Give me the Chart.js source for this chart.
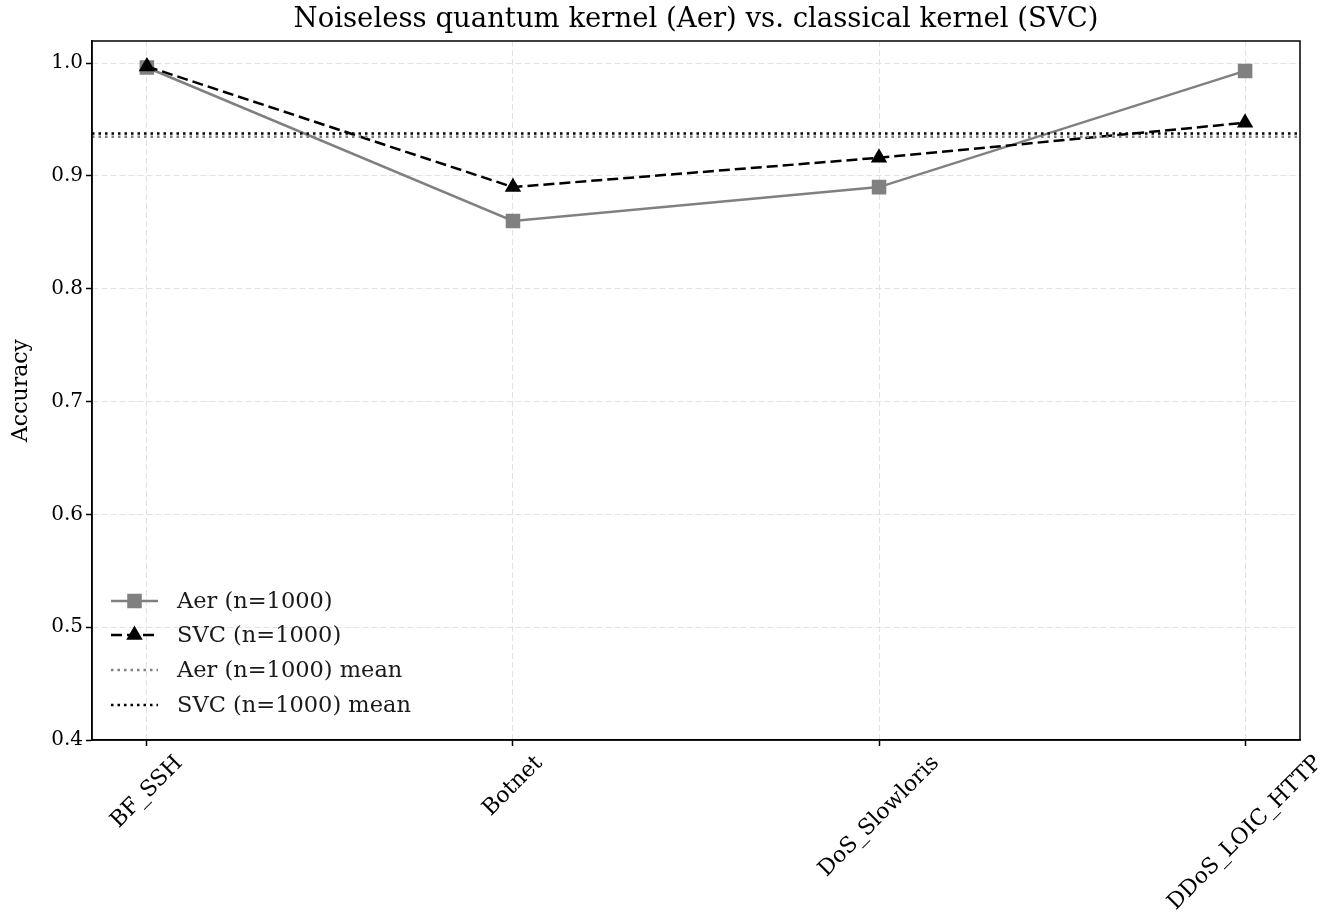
<!DOCTYPE html>
<html lang="en">

<head>
    <meta charset="UTF-8">
    <title>Noiseless quantum kernel vs. classical kernel</title>
    <script src="https://cdn.jsdelivr.net/npm/chart.js"></script>
    <style>
        body {
            margin: 0;
            background-color: white;
        }

        .chart-container {
            position: relative;
            width: 1332px;
            height: 920px;
        }
    </style>
</head>

<body>

    <div class="chart-container">
        <canvas id="accChart"></canvas>
    </div>

    <script>
        // Data
        const categories = ["BF_SSH", "Botnet", "DoS_Slowloris", "DDoS_LOIC_HTTP"];
        const aerAcc = [0.996, 0.860, 0.890, 0.993];
        const svcAcc = [0.997, 0.890, 0.916, 0.947];
        const yTicks = [0.4, 0.5, 0.6, 0.7, 0.8, 0.9, 1.0];
        const seriesNames = ["Aer (n=1000)", "SVC (n=1000)", "Aer (n=1000) mean", "SVC (n=1000) mean"];

        const mean = arr => arr.reduce((a, b) => a + b, 0) / arr.length;
        const aerMean = mean(aerAcc);
        const svcMean = mean(svcAcc);

        const xMin = -0.15;
        const xMax = categories.length - 1 + 0.15;
        const serif = "'DejaVu Serif', serif";

        // title, spines, rotated x labels, y label and legend, matplotlib style
        const decorations = {
            id: 'decorations',
            afterDraw(chart) {
                const ctx = chart.ctx;
                const area = chart.chartArea;
                const xs = chart.scales.x;
                ctx.save();

                // box around plot
                ctx.strokeStyle = '#000';
                ctx.lineWidth = 1.5;
                ctx.strokeRect(area.left, area.top, area.right - area.left, area.bottom - area.top);

                // title
                ctx.fillStyle = '#000';
                ctx.font = "27.5px " + serif;
                ctx.textAlign = 'center';
                ctx.textBaseline = 'middle';
                ctx.fillText("Noiseless quantum kernel (Aer) vs. classical kernel (SVC)", (area.left + area.right) / 2, 20);

                // y label
                ctx.font = "22px " + serif;
                ctx.save();
                ctx.translate(21, (area.top + area.bottom) / 2);
                ctx.rotate(-Math.PI / 2);
                ctx.fillText("Accuracy", 0, 0);
                ctx.restore();

                // x tick labels, rotated 45 deg, centred on the tick
                ctx.font = "22px " + serif;
                categories.forEach((c, i) => {
                    const w = ctx.measureText(c).width;
                    const h = 25;
                    const bb = (w + h) * Math.SQRT1_2;
                    const px = xs.getPixelForValue(i);
                    ctx.save();
                    ctx.translate(px, area.bottom + 11 + bb / 2);
                    ctx.rotate(-Math.PI / 4);
                    ctx.fillText(c, 0, 0);
                    ctx.restore();
                });

                // legend, lower left inside axes
                ctx.font = "22.5px " + serif;
                ctx.textAlign = 'left';
                const lx0 = 111, lx1 = 158, tx = 177;
                const rows = [601, 635, 670, 705];
                chart.data.datasets.forEach((ds, i) => {
                    const y = rows[i];
                    ctx.strokeStyle = ds.borderColor;
                    ctx.lineWidth = ds.borderWidth;
                    ctx.setLineDash(ds.borderDash || []);
                    ctx.beginPath();
                    ctx.moveTo(lx0, y);
                    ctx.lineTo(lx1, y);
                    ctx.stroke();
                    ctx.setLineDash([]);
                    if (ds.pointRadius > 0) {
                        Chart.helpers.drawPoint(ctx, {
                            pointStyle: ds.pointStyle,
                            radius: ds.pointRadius,
                            rotation: 0,
                            borderWidth: 1
                        }, (lx0 + lx1) / 2, y);
                        ctx.fillStyle = ds.pointBackgroundColor;
                        ctx.fill();
                    }
                    ctx.fillStyle = '#1a1a1a';
                    ctx.fillText(ds.label, tx, y + 1);
                });

                ctx.restore();
            }
        };

        const linePts = vals => vals.map((v, i) => ({ x: i, y: v }));
        const flatPts = v => [{ x: xMin, y: v }, { x: xMax, y: v }];

        const gridOpts = {
            color: '#e2e2e2',
            lineWidth: 1,
            tickColor: '#000',
            tickLength: 6,
            tickWidth: 1.5,
            tickBorderDash: []
        };
        const borderOpts = { color: '#000', width: 1.5, dash: [6, 3] };

        const ctx = document.getElementById('accChart').getContext('2d');
        const accChart = new Chart(ctx, {
            type: 'line',
            data: {
                datasets: [{
                    label: seriesNames[0],
                    data: linePts(aerAcc),
                    borderColor: '#808080',
                    backgroundColor: '#808080',
                    pointBackgroundColor: '#808080',
                    pointBorderColor: '#808080',
                    borderWidth: 2.5,
                    pointStyle: 'rect',
                    pointRadius: 8.5,
                    order: 4
                }, {
                    label: seriesNames[1],
                    data: linePts(svcAcc),
                    borderColor: '#000',
                    backgroundColor: '#000',
                    pointBackgroundColor: '#000',
                    pointBorderColor: '#000',
                    borderWidth: 2.5,
                    borderDash: [11, 5],
                    pointStyle: 'triangle',
                    pointRadius: 7,
                    order: 3
                }, {
                    label: seriesNames[2],
                    data: flatPts(aerMean),
                    borderColor: '#808080',
                    borderWidth: 2.5,
                    borderDash: [2.5, 4],
                    pointRadius: 0,
                    order: 2
                }, {
                    label: seriesNames[3],
                    data: flatPts(svcMean),
                    borderColor: '#000',
                    borderWidth: 2.5,
                    borderDash: [2.5, 4],
                    pointRadius: 0,
                    order: 1
                }]
            },
            options: {
                responsive: true,
                maintainAspectRatio: false,
                animation: false,
                layout: {
                    padding: { top: 41, right: 32, left: 0, bottom: 0 }
                },
                scales: {
                    x: {
                        type: 'linear',
                        min: xMin,
                        max: xMax,
                        afterBuildTicks: axis => {
                            axis.ticks = categories.map((c, i) => ({ value: i }));
                        },
                        afterFit: axis => { axis.height = 180; },
                        ticks: {
                            callback: () => '',
                            maxRotation: 0
                        },
                        grid: gridOpts,
                        border: borderOpts
                    },
                    y: {
                        min: 0.4,
                        max: 1.0195,
                        afterBuildTicks: axis => {
                            axis.ticks = yTicks.map(v => ({ value: v }));
                        },
                        afterFit: axis => { axis.width = 92; },
                        ticks: {
                            color: '#000',
                            padding: 3,
                            font: { family: serif, size: 20 },
                            callback: v => v.toFixed(1)
                        },
                        grid: gridOpts,
                        border: borderOpts
                    }
                },
                plugins: {
                    legend: { display: false },
                    tooltip: { enabled: false }
                }
            },
            plugins: [decorations]
        });
    </script>

</body>

</html>
